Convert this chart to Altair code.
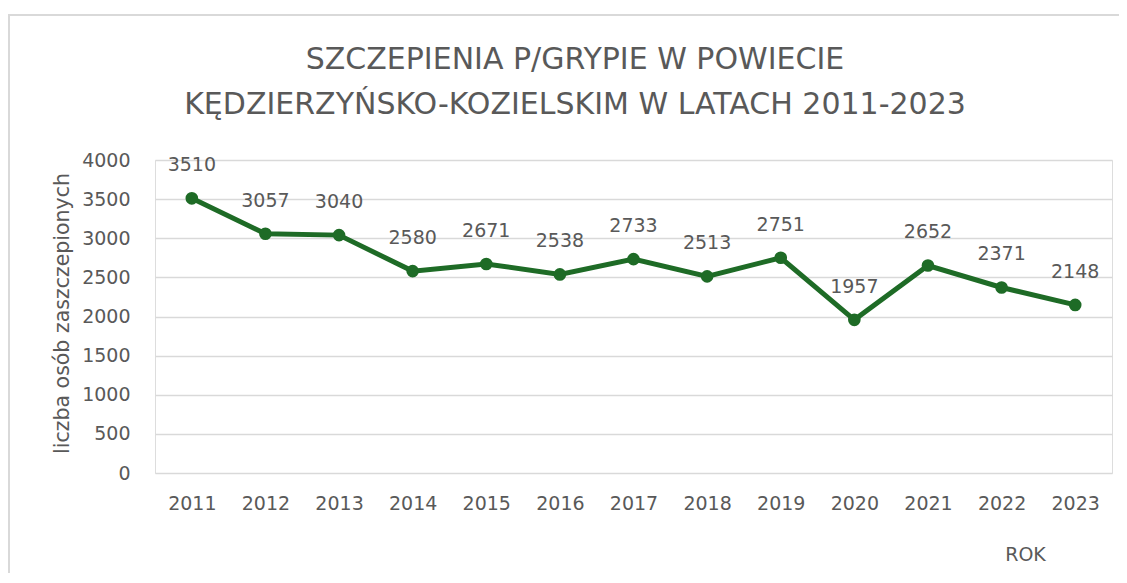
import altair as alt
import pandas as pd

years = ["2011", "2012", "2013", "2014", "2015", "2016", "2017",
         "2018", "2019", "2020", "2021", "2022", "2023"]
vaccinated = [3510, 3057, 3040, 2580, 2671, 2538, 2733,
              2513, 2751, 1957, 2652, 2371, 2148]
y_ticks = [0, 500, 1000, 1500, 2000, 2500, 3000, 3500, 4000]
title_lines = ["SZCZEPIENIA P/GRYPIE W POWIECIE",
               "KĘDZIERZYŃSKO-KOZIELSKIM W LATACH 2011-2023"]

df = pd.DataFrame({"rok": years, "liczba": vaccinated})

FONT = "DejaVu Sans"
TFONT = "DejaVu Sans"
GRAY = "#595959"
GREEN = "#1E6B26"
W, H = 957, 313

base = alt.Chart(df).encode(
    x=alt.X("rok:O", sort=years,
            axis=alt.Axis(title="ROK", labelAngle=0, ticks=False, tickSize=0,
                          domain=False, labelPadding=21, labelFontSize=19,
                          labelColor=GRAY, labelFont=FONT,
                          titleFontSize=19, titleColor=GRAY, titleFont=FONT,
                          titleFontWeight="normal", titleX=870, titleY=81,
                          titleBaseline="middle")),
    y=alt.Y("liczba:Q", scale=alt.Scale(domain=[0, 4000], nice=False),
            axis=alt.Axis(title="liczba osób zaszczepionych", values=y_ticks,
                          format="d",
                          ticks=False, tickSize=0, domain=False,
                          labelPadding=25, labelFontSize=19, labelColor=GRAY,
                          labelFont=FONT, gridColor="#D9D9D9", gridWidth=1.5,
                          titleFontSize=20.5, titleColor=GRAY, titleFont=FONT,
                          titleFontWeight="normal", titleX=-93, titleY=153,
                          titleBaseline="middle")),
)

line = base.mark_line(color=GREEN, strokeWidth=5)
points = base.mark_circle(color=GREEN, size=160, opacity=1)
labels = base.mark_text(dy=-33, fontSize=19, font=FONT, color=GRAY).encode(
    text=alt.Text("liczba:Q", format="d"))

one = pd.DataFrame({"a": [0]})
frame = alt.Chart(one).mark_rect(
    fill="transparent", stroke="#D9D9D9", strokeWidth=2, clip=False
).encode(x=alt.value(1 - 147), y=alt.value(7 - 152),
         x2=alt.value(3000), y2=alt.value(2000))

t1 = alt.Chart(one).mark_text(
    text=title_lines[0], fontSize=30, font=TFONT, color=GRAY,
    align="center", baseline="middle"
).encode(x=alt.value(420), y=alt.value(-100))
t2 = alt.Chart(one).mark_text(
    text=title_lines[1], fontSize=30, font=TFONT, color=GRAY,
    align="center", baseline="middle"
).encode(x=alt.value(420), y=alt.value(-55))

chart = alt.layer(frame, t1, t2, line, points, labels).properties(
    width=W, height=H,
    autosize=alt.AutoSizeParams(type="none"),
    padding={"left": 147, "top": 152, "right": 7, "bottom": 100},
).configure_view(stroke=None).configure(background="white")

chart.save("out.html", embed_options={"renderer": "svg", "actions": False})
